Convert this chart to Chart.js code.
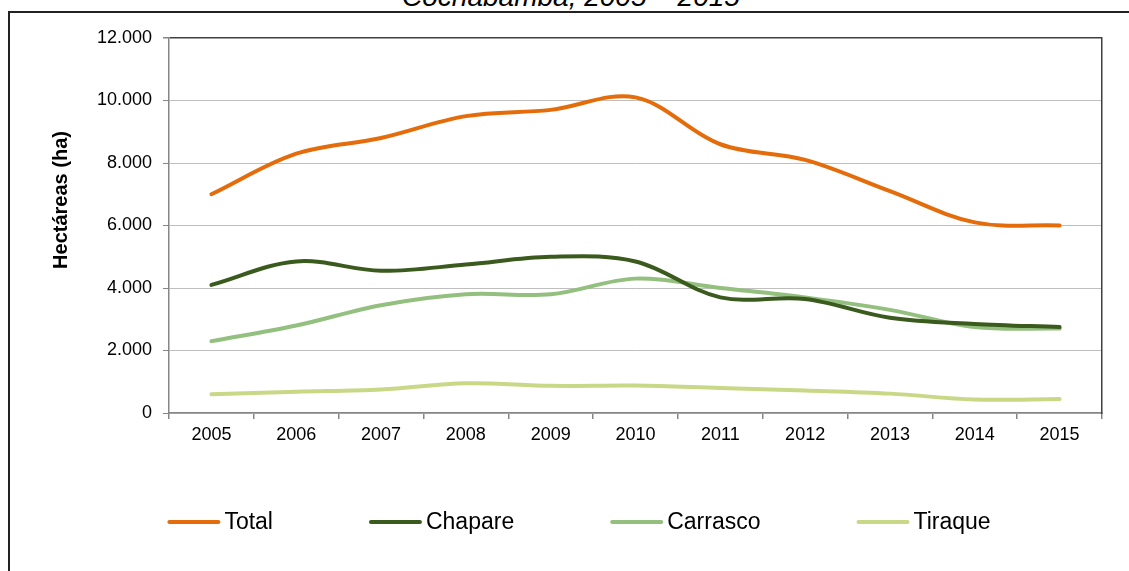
<!DOCTYPE html>
<html lang="es">
<head>
    <meta charset="UTF-8">
    <title>Hectáreas de coca - Cochabamba, 2005 – 2015</title>
    <script src="https://cdn.jsdelivr.net/npm/chart.js"></script>
    <style>
        html, body { margin: 0; padding: 0; background: #fff; }
        body { width: 1129px; height: 571px; position: relative; overflow: hidden; font-family: "Liberation Sans", Arial, sans-serif; }
        .title {
            position: absolute; left: 0; width: 1142px; top: -17px;
            text-align: center; font-style: italic; font-size: 28px; line-height: 1; color: #000;
        }
        .frame-top { position: absolute; left: 8px; top: 11px; width: 1125px; height: 0; border-top: 2px solid #222; }
        .frame-left { position: absolute; left: 8px; top: 11px; width: 0; height: 570px; border-left: 2px solid #222; }
        .chart-box { position: absolute; left: 0; top: 0; width: 1129px; height: 571px; }
    </style>
</head>
<body>
    <div class="title">Cochabamba, 2005 – 2015</div>
    <div class="frame-top"></div>
    <div class="frame-left"></div>
    <div class="chart-box"><canvas id="chart"></canvas></div>

    <script>
        const years = ['2005', '2006', '2007', '2008', '2009', '2010', '2011', '2012', '2013', '2014', '2015'];
        const total    = [7000, 8300, 8800, 9500, 9700, 10100, 8600, 8100, 7100, 6100, 6000];
        const chapare  = [4100, 4850, 4550, 4750, 5000, 4850, 3700, 3650, 3050, 2850, 2750];
        const carrasco = [2300, 2800, 3450, 3800, 3800, 4300, 4000, 3700, 3300, 2750, 2700];
        const tiraque  = [600, 680, 750, 950, 870, 880, 800, 720, 620, 430, 450];
        const yTitle = 'Hectáreas (ha)';

        const fmt = v => String(v).replace(/\B(?=(\d{3})+(?!\d))/g, '.');

        // legend drawn by hand so the swatch/text spacing matches the original
        const legendPlugin = {
            id: 'bottomLegend',
            afterDraw(chart) {
                const ctx = chart.ctx;
                const sets = chart.data.datasets;
                const lineW = 53, gap = 4, spacing = 96, cy = 522;
                ctx.save();
                ctx.font = '23px "Liberation Sans", Arial, sans-serif';
                const widths = sets.map(d => lineW + gap + ctx.measureText(d.label).width);
                const full = widths.reduce((a, b) => a + b, 0) + spacing * (sets.length - 1);
                let x = 579 - full / 2;
                sets.forEach((d, i) => {
                    ctx.strokeStyle = d.borderColor;
                    ctx.lineWidth = 4;
                    ctx.lineCap = 'round';
                    ctx.beginPath();
                    ctx.moveTo(x + 2, cy);
                    ctx.lineTo(x + lineW - 2, cy);
                    ctx.stroke();
                    ctx.fillStyle = '#000';
                    ctx.textBaseline = 'middle';
                    ctx.textAlign = 'left';
                    ctx.fillText(d.label, x + lineW + gap, cy + 1);
                    x += widths[i] + spacing;
                });
                // y axis title
                ctx.translate(67, 200);
                ctx.rotate(-Math.PI / 2);
                ctx.font = 'bold 20px "Liberation Sans", Arial, sans-serif';
                ctx.textAlign = 'center';
                ctx.textBaseline = 'alphabetic';
                ctx.fillText(yTitle, 0, 0);
                ctx.restore();
            }
        };

        const line = (label, data, color) => ({
            label, data,
            borderColor: color,
            backgroundColor: color,
            borderWidth: 4,
            borderCapStyle: 'round',
            pointRadius: 0,
            pointHoverRadius: 0,
            tension: 0.35,
            fill: false
        });

        new Chart(document.getElementById('chart'), {
            type: 'line',
            data: {
                labels: years,
                datasets: [
                    line('Total', total, '#E46C0A'),
                    line('Chapare', chapare, '#3A5A1E'),
                    line('Carrasco', carrasco, '#93BF7F'),
                    line('Tiraque', tiraque, '#C9D886')
                ]
            },
            options: {
                responsive: true,
                maintainAspectRatio: false,
                animation: false,
                layout: { padding: { left: 0, right: 27, top: 38, bottom: 118 } },
                plugins: {
                    legend: { display: false },
                    tooltip: { enabled: false }
                },
                scales: {
                    x: {
                        offset: true,
                        grid: {
                            offset: true,
                            drawOnChartArea: false,
                            drawTicks: true,
                            tickLength: 6,
                            color: '#868686',
                            lineWidth: 1.5
                        },
                        border: { color: '#868686', width: 1.5 },
                        ticks: {
                            color: '#000',
                            padding: 5,
                            maxRotation: 0,
                            font: { family: '"Liberation Sans", Arial, sans-serif', size: 18 }
                        },
                        afterFit: s => { s.height = 40; }
                    },
                    y: {
                        min: 0,
                        max: 12000,
                        ticks: {
                            stepSize: 2000,
                            color: '#000',
                            padding: 11,
                            callback: v => fmt(v),
                            font: { family: '"Liberation Sans", Arial, sans-serif', size: 18 }
                        },
                        grid: {
                            color: c => c.tick && c.tick.value === 12000 ? '#404040' : '#BFBFBF',
                            lineWidth: c => c.tick && c.tick.value === 12000 ? 1.5 : 1,
                            tickColor: '#868686',
                            tickLength: 6
                        },
                        border: { color: '#868686', width: 1.5 },
                        afterFit: s => { s.width = 169; }
                    },
                    y2: {
                        position: 'right',
                        min: 0,
                        max: 12000,
                        ticks: { display: false },
                        grid: { drawOnChartArea: false, drawTicks: false },
                        border: { color: '#404040', width: 1.5 },
                        afterFit: s => { s.width = 0; }
                    }
                }
            },
            plugins: [legendPlugin]
        });
    </script>
</body>
</html>
